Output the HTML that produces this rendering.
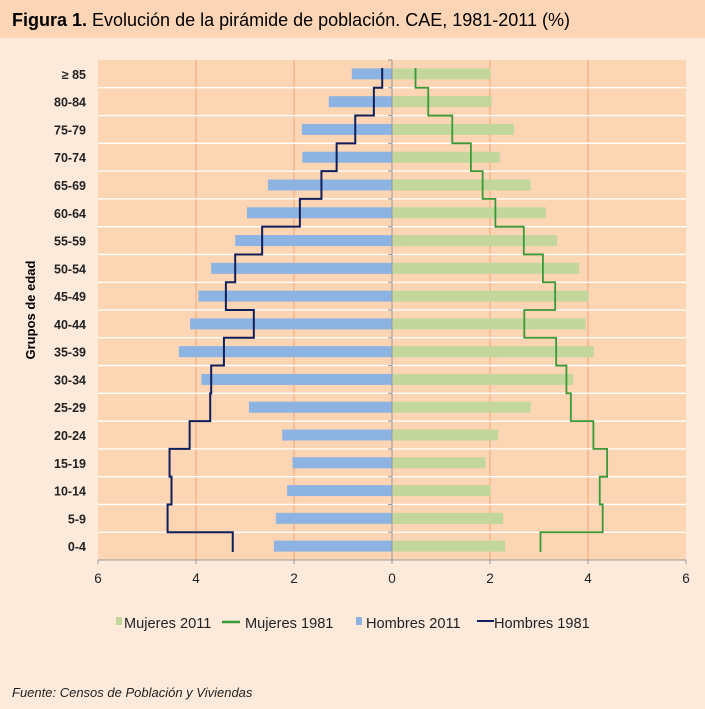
<!DOCTYPE html>
<html><head><meta charset="utf-8"><style>
body{margin:0;background:#fdeadb;font-family:"Liberation Sans",Arial,sans-serif}
svg{display:block}
</style></head><body>
<svg id="c" width="705" height="709" viewBox="0 0 705 709" xmlns="http://www.w3.org/2000/svg">
<rect x="0" y="0" width="705" height="709" fill="#fdeadb"/>
<rect x="0" y="0" width="705" height="38" fill="#fbd5b5"/>
<text x="12" y="26" font-size="18" fill="#000"><tspan font-weight="bold">Figura 1.</tspan> Evolución de la pirámide de población. CAE, 1981-2011 (%)</text>
<rect x="98" y="60" width="588" height="500" fill="#fcd5b4"/>
<g id="grid"></g><g id="bars"></g><g id="lines"></g><g id="axes"></g>
<text transform="translate(35,310) rotate(-90)" text-anchor="middle" font-size="13" font-weight="bold">Grupos de edad</text>
<g font-size="14.6" fill="#222">
<rect x="116" y="617" width="6" height="8" fill="#c3d69b"/>
<text x="124" y="628">Mujeres 2011</text>
<line x1="222" y1="622" x2="240" y2="622" stroke="#3a9a3a" stroke-width="2.5"/>
<text x="245" y="628">Mujeres 1981</text>
<rect x="356" y="617" width="6" height="8" fill="#8db3e2"/>
<text x="366" y="628">Hombres 2011</text>
<line x1="477" y1="621" x2="494" y2="621" stroke="#0f1f5c" stroke-width="2"/>
<text x="494" y="628">Hombres 1981</text>
</g>
<text x="12" y="697" font-size="13" font-style="italic" fill="#222">Fuente: Censos de Población y Viviendas</text>
</svg>
<script>
const categories=["≥ 85","80-84","75-79","70-74","65-69","60-64","55-59","50-54","45-49","40-44","35-39","30-34","25-29","20-24","15-19","10-14","5-9","0-4"];
const hombres2011=[0.82,1.29,1.84,1.83,2.53,2.96,3.20,3.69,3.95,4.12,4.35,3.89,2.92,2.24,2.03,2.14,2.37,2.41];
const mujeres2011=[2.01,2.03,2.49,2.20,2.83,3.14,3.37,3.82,4.01,3.95,4.12,3.70,2.83,2.17,1.91,2.01,2.27,2.31];
const hombres1981=[0.20,0.37,0.75,1.13,1.44,1.88,2.65,3.20,3.39,2.82,3.43,3.69,3.71,4.13,4.54,4.50,4.58,3.25];
const mujeres1981=[0.48,0.74,1.23,1.61,1.85,2.11,2.69,3.08,3.33,2.70,3.35,3.56,3.65,4.11,4.39,4.24,4.30,3.03];
const xTicks=[-6,-4,-2,0,2,4,6];
const NS="http://www.w3.org/2000/svg";
const X0=98,X1=686,Y0=60,Y1=560;
const x=v=>X0+(v+6)/12*(X1-X0);
const rh=(Y1-Y0)/categories.length;
const yTop=i=>Y0+i*rh;
function mk(p,tag,a){const e=document.createElementNS(NS,tag);for(const k in a)e.setAttribute(k,a[k]);p.appendChild(e);return e;}
const grid=document.getElementById('grid'),bars=document.getElementById('bars'),lines=document.getElementById('lines'),axes=document.getElementById('axes');
xTicks.forEach(t=>{if(t===0||Math.abs(t)===6)return;const l=mk(grid,'line',{x1:x(t),x2:x(t),y1:Y0,y2:Y1,stroke:'#f4a27a','stroke-width':1});

});
for(let i=1;i<categories.length;i++){const l=mk(grid,'line',{x1:X0,x2:X1,y1:yTop(i),y2:yTop(i),stroke:'#fff','stroke-width':1.3});

}
const bh=11;
categories.forEach((c,i)=>{const cy=yTop(i)+rh/2;
const b1=mk(bars,'rect',{x:x(-hombres2011[i]),y:cy-bh/2,width:x(0)-x(-hombres2011[i]),height:bh,fill:'#8db3e2'});


const b2=mk(bars,'rect',{x:x(0),y:cy-bh/2,width:x(mujeres2011[i])-x(0),height:bh,fill:'#c3d69b'});


const t=mk(axes,'text',{x:86,y:cy+5,'text-anchor':'end','font-size':12.5,'font-weight':'bold',fill:'#222'});t.textContent=c;

});
function step(vals,sign,color,w,name){let d='';const n=vals.length;
vals.forEach((v,i)=>{const xx=x(sign*v);const ya=i===0?yTop(0)+8:yTop(i);const yb=i===n-1?yTop(n)-8:yTop(i+1);d+=(i===0?'M':'L')+xx+','+ya+'L'+xx+','+yb;});
const p=mk(lines,'path',{d:d,fill:'none',stroke:color,'stroke-width':w});

}
step(hombres1981,-1,'#0f1f5c',2,'line-hombres-1981');
step(mujeres1981,1,'#3a9a3a',1.8,'line-mujeres-1981');
const ax=mk(axes,'line',{x1:X0,x2:X1,y1:Y1,y2:Y1,stroke:'#999','stroke-width':1});


const ay=mk(axes,'line',{x1:x(0),x2:x(0),y1:Y0,y2:Y1,stroke:'#999','stroke-width':1});


for(let i=0;i<=categories.length;i++){const tk=mk(axes,'line',{x1:x(0)-4,x2:x(0),y1:yTop(i),y2:yTop(i),stroke:'#999'});

}
xTicks.forEach(t=>{const tk=mk(axes,'line',{x1:x(t),x2:x(t),y1:Y1,y2:Y1+4,stroke:'#999'});


const tx=mk(axes,'text',{x:x(t),y:Y1+23,'text-anchor':'middle','font-size':13.5,fill:'#222'});tx.textContent=Math.abs(t);

});
</script>
</body></html>
